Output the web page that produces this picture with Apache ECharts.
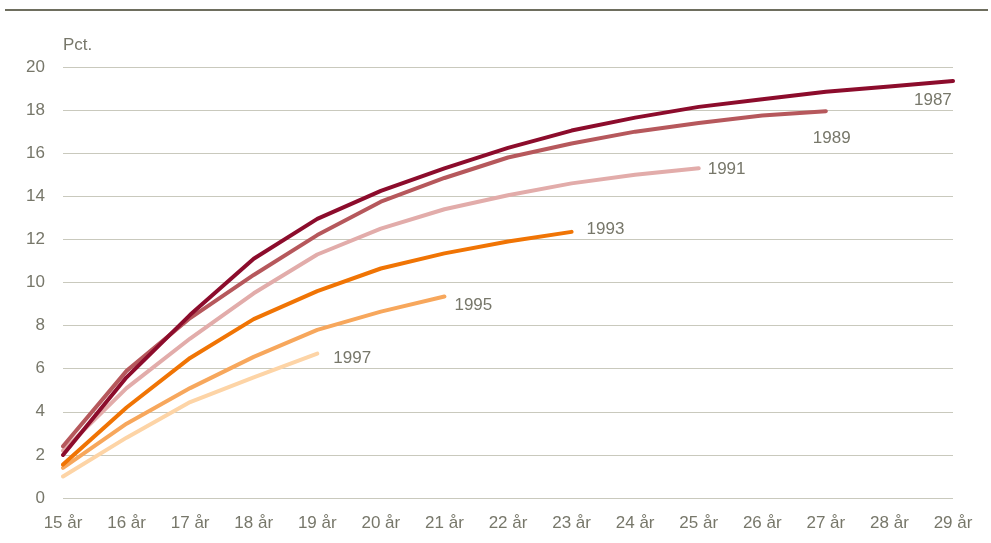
<!DOCTYPE html>
<html><head><meta charset="utf-8">
<script src="https://cdn.jsdelivr.net/npm/echarts@6/dist/echarts.min.js"></script>
<style>html,body{margin:0;padding:0;background:#fff}#c{width:991px;height:543px}</style>
</head><body><div id="c"></div>
<script>
const categories = ['15 år','16 år','17 år','18 år','19 år','20 år','21 år','22 år','23 år','24 år','25 år','26 år','27 år','28 år','29 år'];
const s1987 = [2.0, 5.6, 8.5, 11.1, 12.95, 14.25, 15.3, 16.25, 17.05, 17.65, 18.15, 18.5, 18.85, 19.1, 19.35];
const s1989 = [2.4, 5.9, 8.35, 10.35, 12.2, 13.75, 14.85, 15.8, 16.45, 17.0, 17.4, 17.75, 17.95];
const s1991 = [2.2, 5.1, 7.4, 9.5, 11.3, 12.5, 13.4, 14.05, 14.6, 15.0, 15.3];
const s1993 = [1.55, 4.2, 6.5, 8.3, 9.6, 10.65, 11.35, 11.9, 12.35];
const s1995 = [1.4, 3.45, 5.1, 6.55, 7.8, 8.65, 9.35];
const s1997 = [1.0, 2.8, 4.45, 5.6, 6.7];
const yTicks = [0,2,4,6,8,10,12,14,16,18,20];

const FONT = "'Liberation Sans Narrow', 'Arial Narrow', 'Liberation Sans', sans-serif";
const FS = 17;
const TXT = '#77776a';
const seriesDefs = [
  {name:'1987', data:s1987, color:'#8c0c2c', off:[-39,19]},
  {name:'1989', data:s1989, color:'#b6585c', off:[-13,27]},
  {name:'1991', data:s1991, color:'#e2acaa', off:[9,1]},
  {name:'1993', data:s1993, color:'#f07404', off:[15,-3]},
  {name:'1995', data:s1995, color:'#f7a75c', off:[10,9]},
  {name:'1997', data:s1997, color:'#fdd4a6', off:[16,5]}
];
const chart = echarts.init(document.getElementById('c'), null, {renderer:'canvas'});
chart.setOption({
  animation:false,
  grid:{left:63, right:38, top:67, bottom:45, containLabel:false},
  graphic:[
    {type:'rect', shape:{x:5, y:9, width:983, height:2}, style:{fill:'#6e6e5e'}},
    {type:'text', left:63, top:37, style:{text:'Pct.', font:FS+'px '+FONT, fill:TXT}}
  ],
  xAxis:{type:'category', data:categories, boundaryGap:false,
    axisLine:{show:false}, axisTick:{show:false},
    axisLabel:{color:TXT, fontFamily:FONT, fontSize:FS, margin:17, interval:0}},
  yAxis:{type:'value', min:0, max:20, interval:2,
    axisLine:{show:false}, axisTick:{show:false},
    splitLine:{lineStyle:{color:'#c9c9bd', width:1}},
    axisLabel:{color:TXT, fontFamily:FONT, fontSize:FS, margin:18}},
  series: seriesDefs.map(d=>({
    name:d.name, type:'line', data:d.data, showSymbol:false, symbol:'none',
    lineStyle:{color:d.color, width:4, cap:'round'},
    itemStyle:{color:d.color},
    endLabel:{show:true, formatter:d.name, position:'right', distance:0, offset:d.off,
      color:TXT, fontFamily:FONT, fontSize:FS}
  })).reverse()
});
</script></body></html>
